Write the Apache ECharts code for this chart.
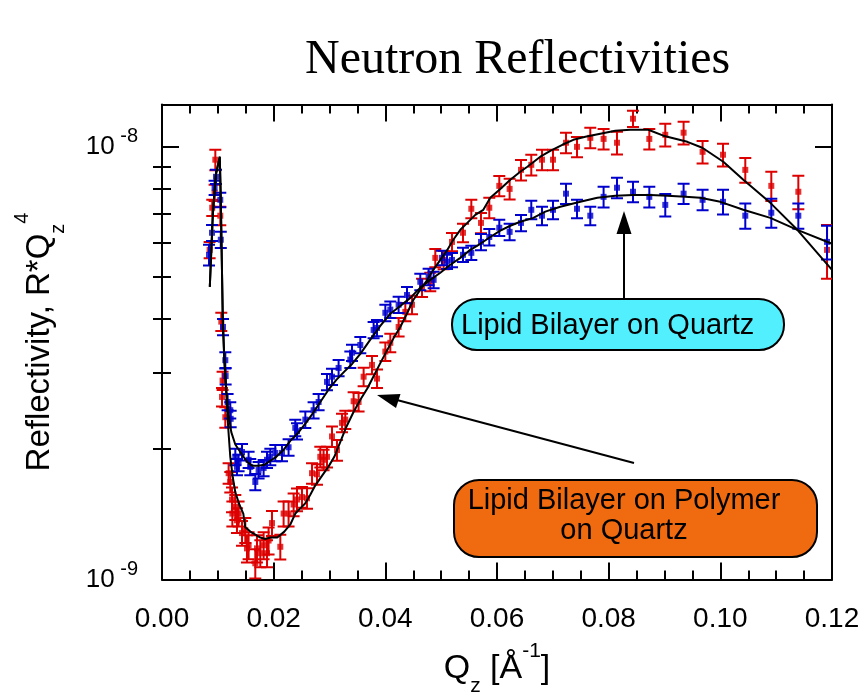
<!DOCTYPE html>
<html><head><meta charset="utf-8">
<script src="https://cdn.jsdelivr.net/npm/echarts@6/dist/echarts.min.js"></script>
<style>html,body{margin:0;padding:0;background:#fff}#c{width:863px;height:695px}</style>
</head><body><div id="c"></div>
<script>
// ---- data (reflectivity values in units of 1e-9) ----
const U = 1e-9;
const titleText = 'Neutron Reflectivities';
const xTickLabels = ['0.00','0.02','0.04','0.06','0.08','0.10','0.12'];
const yMajorTicks = [1e-9, 1e-8];
const yMinorTicks = [2e-9,3e-9,4e-9,5e-9,6e-9,7e-9,8e-9,9e-9];

const blueQ = [0.00842,0.00896,0.00942,0.00967,0.01044,0.01053,0.01093,0.01134,0.01140,0.01175,0.01223,0.01230,0.01313,0.01343,0.01372,0.01433,0.01551,0.01581,0.01671,0.01730,0.01820,0.01881,0.01940,0.02029,0.02149,0.02267,0.02387,0.02418,0.02567,0.02715,0.02805,0.02955,0.03045,0.03163,0.03373,0.03403,0.03552,0.03790,0.03851,0.04000,0.04089,0.04238,0.04388,0.04626,0.04775,0.04865,0.05015,0.05105,0.05194,0.05391,0.05540,0.05713,0.05862,0.06041,0.06226,0.06430,0.06614,0.06806,0.07003,0.07236,0.07433,0.07671,0.07909,0.08149,0.08436,0.08728,0.09014,0.09342,0.09682,0.10048,0.10447,0.10913,0.11397,0.11911];
const blueR = [5.62,6.32,8.03,8.51,7.53,6.09,3.83,3.21,2.95,2.57,2.46,2.35,1.92,1.82,1.86,1.97,1.89,1.82,1.68,1.79,1.81,1.89,1.92,1.96,1.96,2.02,2.24,2.20,2.34,2.46,2.57,2.86,2.94,3.08,3.22,3.34,3.48,3.77,3.81,4.13,4.20,4.31,4.54,4.87,5.00,4.92,5.53,5.42,5.47,5.62,5.68,6.02,6.18,6.49,6.35,6.66,7.14,6.92,7.14,7.78,7.18,6.92,7.65,8.03,7.86,7.65,7.33,7.78,7.53,7.45,6.92,7.03,6.92,6.02];
const blueErr = [0.31,0.27,0.30,0.32,0.29,0.26,0.167,0.14,0.128,0.112,0.107,0.102,0.084,0.079,0.081,0.086,0.082,0.079,0.073,0.078,0.079,0.082,0.084,0.085,0.085,0.088,0.097,0.096,0.102,0.107,0.112,0.124,0.128,0.134,0.14,0.145,0.151,0.164,0.166,0.18,0.183,0.187,0.197,0.212,0.218,0.214,0.21,0.205,0.207,0.213,0.215,0.26,0.27,0.28,0.28,0.29,0.35,0.34,0.35,0.42,0.35,0.34,0.42,0.44,0.43,0.42,0.44,0.42,0.41,0.49,0.46,0.54,0.46,0.54];

const redQ = [0.00853,0.00900,0.00942,0.00955,0.01044,0.01062,0.01075,0.01085,0.01134,0.01193,0.01223,0.01254,0.01260,0.01313,0.01343,0.01372,0.01433,0.01492,0.01522,0.01551,0.01671,0.01701,0.01761,0.01820,0.01881,0.01909,0.01970,0.02119,0.02178,0.02267,0.02357,0.02418,0.02507,0.02597,0.02687,0.02776,0.02835,0.02894,0.02955,0.03045,0.03134,0.03224,0.03283,0.03432,0.03521,0.03611,0.03761,0.03851,0.04000,0.04089,0.04238,0.04358,0.04478,0.04657,0.04805,0.04895,0.05044,0.05194,0.05391,0.05540,0.05713,0.05862,0.06041,0.06226,0.06430,0.06614,0.06806,0.07003,0.07236,0.07433,0.07671,0.07909,0.08149,0.08436,0.08728,0.09014,0.09342,0.09682,0.10048,0.10447,0.10913,0.11397,0.11911];
const redR = [5.77,7.22,7.82,9.32,6.92,3.94,2.64,2.88,2.37,1.76,1.68,1.53,1.42,1.47,1.37,1.42,1.28,1.30,1.18,1.20,1.09,1.18,1.15,1.20,1.15,1.23,1.35,1.19,1.42,1.42,1.49,1.53,1.55,1.54,1.76,1.75,1.92,1.89,1.92,2.14,1.99,2.30,2.34,2.58,2.57,2.94,3.13,2.91,3.36,3.52,3.83,4.15,4.31,4.72,4.87,5.53,5.47,6.02,6.32,7.18,6.66,7.22,8.11,7.98,8.83,9.07,9.32,9.32,10.20,9.98,10.47,10.41,10.20,11.59,10.41,10.64,10.76,9.72,9.57,8.83,8.11,7.86,5.77];
const redErr = [0.25,0.31,0.34,0.51,0.34,0.19,0.13,0.14,0.13,0.096,0.092,0.10,0.094,0.097,0.09,0.094,0.084,0.086,0.085,0.086,0.085,0.085,0.082,0.086,0.082,0.088,0.089,0.078,0.094,0.094,0.09,0.092,0.085,0.084,0.096,0.095,0.105,0.103,0.105,0.117,0.109,0.113,0.114,0.126,0.126,0.144,0.153,0.143,0.164,0.172,0.188,0.203,0.211,0.231,0.239,0.271,0.268,0.295,0.31,0.35,0.36,0.39,0.44,0.44,0.48,0.50,0.51,0.51,0.56,0.54,0.57,0.57,0.62,0.50,0.57,0.64,0.65,0.58,0.58,0.58,0.63,0.70,0.82];

const blueFitQ = [0.00856,0.00910,0.00964,0.01035,0.01053,0.01071,0.01089,0.01116,0.01152,0.01193,0.01241,0.01313,0.01402,0.01522,0.01617,0.01725,0.01832,0.01940,0.02047,0.02173,0.02298,0.02423,0.02567,0.02692,0.02835,0.02979,0.03122,0.03265,0.03408,0.03552,0.03731,0.03910,0.04089,0.04268,0.04447,0.04626,0.04805,0.04985,0.05164,0.05343,0.05522,0.05701,0.05880,0.06059,0.06238,0.06417,0.06650,0.06865,0.07134,0.07492,0.07797,0.08119,0.08441,0.08746,0.09050,0.09373,0.09641,0.10000,0.10412,0.10895,0.11379,0.12000];
const blueFitR = [4.74,6.95,8.60,9.47,7.53,5.47,3.98,3.22,2.74,2.40,2.19,2.05,1.97,1.87,1.83,1.83,1.84,1.88,1.92,1.99,2.09,2.17,2.29,2.41,2.57,2.74,2.89,3.02,3.15,3.32,3.58,3.85,4.11,4.28,4.47,4.72,4.92,5.11,5.33,5.53,5.77,5.96,6.18,6.39,6.56,6.70,6.84,7.07,7.26,7.45,7.61,7.69,7.73,7.73,7.69,7.65,7.61,7.45,7.14,6.84,6.42,5.96];

const redFitQ = [0.00856,0.00910,0.00964,0.01035,0.01053,0.01071,0.01089,0.01116,0.01152,0.01188,0.01223,0.01268,0.01313,0.01385,0.01456,0.01492,0.01582,0.01671,0.01761,0.01850,0.01940,0.02065,0.02191,0.02298,0.02388,0.02477,0.02567,0.02656,0.02746,0.02871,0.02979,0.03086,0.03194,0.03301,0.03426,0.03552,0.03677,0.03785,0.03910,0.04035,0.04143,0.04268,0.04394,0.04501,0.04626,0.04752,0.04859,0.04985,0.05110,0.05217,0.05343,0.05468,0.05611,0.05755,0.05880,0.06059,0.06238,0.06417,0.06543,0.06776,0.06955,0.07170,0.07367,0.07582,0.07850,0.08119,0.08388,0.08710,0.08979,0.09409,0.09677,0.10053,0.10412,0.10895,0.11379,0.12000];
const redFitR = [4.74,6.95,8.60,9.47,7.53,5.47,3.98,3.22,2.67,2.22,1.92,1.72,1.59,1.49,1.42,1.32,1.29,1.27,1.25,1.24,1.25,1.25,1.29,1.34,1.42,1.46,1.50,1.57,1.65,1.74,1.82,1.92,2.08,2.25,2.43,2.60,2.76,2.94,3.16,3.39,3.60,3.83,4.13,4.42,4.67,4.92,5.19,5.47,5.77,6.09,6.42,6.66,6.95,7.14,7.61,7.98,8.38,8.74,8.98,9.47,9.77,10.09,10.36,10.53,10.70,10.87,10.93,10.93,10.59,10.25,9.93,9.22,8.38,7.41,6.42,5.19];

// ---- styling ----
const SANS = 'Liberation Sans';
const RED = '#DD0000', BLUE = '#0000CC', CYAN = '#52F0FF', ORANGE = '#F06A10';

const pts = (q, r) => q.map((x, i) => [x, r[i] * U]);
const bars = (q, r, e) => q.map((x, i) => [x, (r[i] - e[i]) * U, (r[i] + e[i]) * U]);

function errRender(color) {
  return function (params, api) {
    const x = api.value(0);
    const lo = api.coord([x, api.value(1)]);
    const hi = api.coord([x, api.value(2)]);
    const h = 6;
    const style = { stroke: color, lineWidth: 2 };
    return { type: 'group', children: [
      { type: 'line', shape: { x1: lo[0], y1: lo[1], x2: hi[0], y2: hi[1] }, style },
      { type: 'line', shape: { x1: lo[0] - h, y1: lo[1], x2: lo[0] + h, y2: lo[1] }, style },
      { type: 'line', shape: { x1: hi[0] - h, y1: hi[1], x2: hi[0] + h, y2: hi[1] }, style }
    ]};
  };
}

const axLine = { show: true, onZero: false, lineStyle: { color: '#000', width: 2 } };
function xAx(pos, withLabel) {
  const a = {
    type: 'value', position: pos, min: 0, max: 0.12, interval: 0.02,
    axisLine: axLine,
    axisTick: { show: true, inside: true, length: 17, lineStyle: { color: '#000', width: 2 } },
    minorTick: { show: true, splitNumber: 4, length: 9, lineStyle: { color: '#000', width: 2 } },
    splitLine: { show: false }, minorSplitLine: { show: false },
    axisLabel: { show: withLabel, margin: 26, fontFamily: SANS, fontSize: 28, color: '#000',
      formatter: v => xTickLabels[Math.round(v / 0.02)] }
  };
  if (withLabel) {
    a.name = '{n|Q}{sub|z}{n| [Å}{sup|-1}{n|]}';
    a.nameLocation = 'middle';
    a.nameGap = 61;
    a.nameTextStyle = { rich: {
      n: { fontFamily: SANS, fontSize: 34, lineHeight: 56, color: '#000' },
      sub: { fontFamily: SANS, fontSize: 21, lineHeight: 20, verticalAlign: 'bottom', color: '#000' },
      sup: { fontFamily: SANS, fontSize: 21, lineHeight: 44, verticalAlign: 'top', color: '#000' }
    }};
  }
  return a;
}
function yAx(pos, major, withLabel) {
  const a = {
    type: 'log', logBase: 10, position: pos, min: 1e-9, max: 1.25e-8,
    axisLine: major ? axLine : { show: false },
    axisTick: { show: true, inside: true, length: major ? 17 : 9,
      customValues: major ? yMajorTicks : yMinorTicks,
      lineStyle: { color: '#000', width: 2 } },
    minorTick: { show: false },
    splitLine: { show: false },
    axisLabel: { show: withLabel, customValues: yMajorTicks, margin: 24,
      formatter: v => '{b|10}{s| ' + Math.round(Math.log10(v)) + '}',
      rich: {
        b: { fontFamily: SANS, fontSize: 26, lineHeight: 40, color: '#000' },
        s: { fontFamily: SANS, fontSize: 20, lineHeight: 17, verticalAlign: 'top', color: '#000' }
      } }
  };
  if (withLabel) {
    a.name = '{n|Reflectivity, R*Q}{sub|z}{sup|4}';
    a.nameLocation = 'middle';
    a.nameRotate = 90;
    a.nameGap = 94;
    a.nameTextStyle = { rich: {
      n: { fontFamily: SANS, fontSize: 33, lineHeight: 56, color: '#000' },
      sub: { fontFamily: SANS, fontSize: 20, lineHeight: 20, verticalAlign: 'bottom', color: '#000' },
      sup: { fontFamily: SANS, fontSize: 20, lineHeight: 44, verticalAlign: 'top', color: '#000' }
    }};
  }
  return a;
}

const chart = echarts.init(document.getElementById('c'), null, { renderer: 'canvas' });
chart.setOption({
  animation: false,
  backgroundColor: '#fff',
  title: { text: titleText, left: 305, top: 36, padding: 0,
    textStyle: { fontFamily: 'Liberation Serif', fontSize: 48, fontWeight: 'normal', color: '#000' } },
  grid: { left: 162, right: 31, top: 104.5, bottom: 115.5, containLabel: false, outerBoundsMode: 'none' },
  xAxis: [xAx('bottom', true), xAx('top', false)],
  yAxis: [yAx('left', true, true), yAx('right', true, false), yAx('left', false, false), yAx('right', false, false)],
  series: [
    { name: 'polymer err', type: 'custom', renderItem: errRender(RED), data: bars(redQ, redR, redErr),
      encode: { x: 0, y: [1, 2] }, clip: true, z: 2, silent: true },
    { name: 'Lipid Bilayer on Polymer on Quartz', type: 'scatter', data: pts(redQ, redR),
      symbol: 'rect', symbolSize: 6, itemStyle: { color: RED }, z: 3, clip: true },
    { name: 'quartz err', type: 'custom', renderItem: errRender(BLUE), data: bars(blueQ, blueR, blueErr),
      encode: { x: 0, y: [1, 2] }, clip: true, z: 4, silent: true },
    { name: 'Lipid Bilayer on Quartz', type: 'scatter', data: pts(blueQ, blueR),
      symbol: 'rect', symbolSize: 6, itemStyle: { color: BLUE }, z: 5, clip: true },
    { name: 'fit polymer', type: 'line', data: pts(redFitQ, redFitR), showSymbol: false, symbol: 'none',
      lineStyle: { color: '#000', width: 2 }, z: 6, clip: true },
    { name: 'fit quartz', type: 'line', data: pts(blueFitQ, blueFitR), showSymbol: false, symbol: 'none',
      lineStyle: { color: '#000', width: 2 }, z: 6, clip: true }
  ],
  graphic: [
    { type: 'line', shape: { x1: 624, y1: 299, x2: 624, y2: 232 }, style: { stroke: '#000', lineWidth: 2 }, z: 100 },
    { type: 'polygon', shape: { points: [[624, 211], [616.5, 234], [631.5, 234]] }, style: { fill: '#000' }, z: 100 },
    { type: 'line', shape: { x1: 634, y1: 463, x2: 397, y2: 400 }, style: { stroke: '#000', lineWidth: 2 }, z: 100 },
    { type: 'polygon', shape: { points: [[377, 395], [400.5, 394], [396, 408]] }, style: { fill: '#000' }, z: 100 },
    { type: 'rect', shape: { x: 452, y: 299, width: 332, height: 51, r: 25 },
      style: { fill: CYAN, stroke: '#000', lineWidth: 2 }, z: 101 },
    { type: 'text', x: 461, y: 326, z: 102,
      style: { text: 'Lipid Bilayer on Quartz', font: '29px "Liberation Sans"', fill: '#000', align: 'left', verticalAlign: 'middle' } },
    { type: 'rect', shape: { x: 454, y: 480, width: 363, height: 77, r: 25 },
      style: { fill: ORANGE, stroke: '#000', lineWidth: 2 }, z: 101 },
    { type: 'text', x: 624, y: 501, z: 102,
      style: { text: 'Lipid Bilayer on Polymer', font: '29px "Liberation Sans"', fill: '#000', align: 'center', verticalAlign: 'middle' } },
    { type: 'text', x: 624, y: 531, z: 102,
      style: { text: 'on Quartz', font: '29px "Liberation Sans"', fill: '#000', align: 'center', verticalAlign: 'middle' } }
  ]
});
</script>
</body></html>
